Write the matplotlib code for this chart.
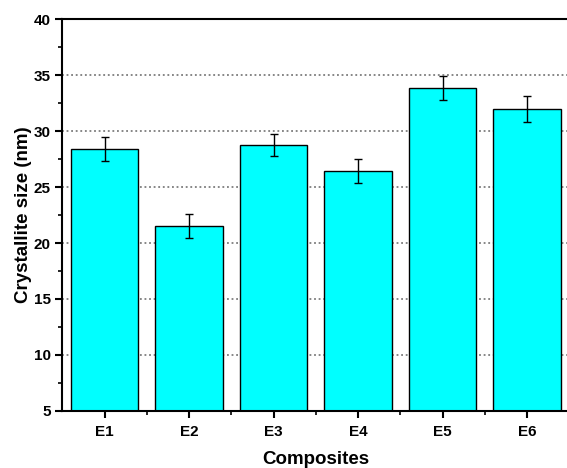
import matplotlib
matplotlib.use("Agg")
import matplotlib.pyplot as plt
from matplotlib.ticker import MultipleLocator, FixedLocator

plt.rcParams['font.family'] = ['Liberation Sans', 'DejaVu Sans']
plt.rcParams['font.weight'] = 'bold'

categories = ["E1", "E2", "E3", "E4", "E5", "E6"]
crystallite_size = [28.4, 21.5, 28.75, 26.45, 33.85, 32.0]
size_error = [1.1, 1.05, 1.0, 1.05, 1.1, 1.15]

fig = plt.figure(figsize=(5.67, 4.68), dpi=100)
ax = fig.add_axes([0.110, 0.122, 0.894, 0.837])

x = list(range(1, len(categories) + 1))
ax.bar(x, crystallite_size, width=0.8, color="#00FFFF", edgecolor="black",
       linewidth=1.0, zorder=2)
ax.errorbar(x, crystallite_size, yerr=size_error, fmt="none", ecolor="black",
            elinewidth=1.0, capsize=3, capthick=1.0, zorder=3)

ax.set_xlim(0.5, 6.5)
ax.set_ylim(5, 40)
ax.set_xticks(x)
ax.set_xticklabels(categories)
ax.xaxis.set_minor_locator(FixedLocator([1.5, 2.5, 3.5, 4.5, 5.5]))
ax.yaxis.set_major_locator(MultipleLocator(5))
ax.yaxis.set_minor_locator(MultipleLocator(2.5))

ax.yaxis.grid(True, which="major", linestyle=(0, (1.2, 1.8)), color="#666666",
              linewidth=1.1, zorder=0)
ax.set_axisbelow(True)

for s in ax.spines.values():
    s.set_linewidth(1.5)
ax.spines["right"].set_visible(False)
ax.tick_params(axis="both", which="major", direction="out", length=5, width=1.5,
               labelsize=11)
ax.tick_params(axis="both", which="minor", direction="out", length=3, width=1.2)
ax.tick_params(axis="x", pad=5)

for lbl in ax.get_xticklabels() + ax.get_yticklabels():
    lbl.set_fontweight("bold")

ax.set_xlabel("Composites", fontsize=13.5, fontweight="bold", labelpad=9)
ax.set_ylabel("Crystallite size (nm)", fontsize=13.5, fontweight="bold", labelpad=1)

fig.savefig("out.png", dpi=100)
